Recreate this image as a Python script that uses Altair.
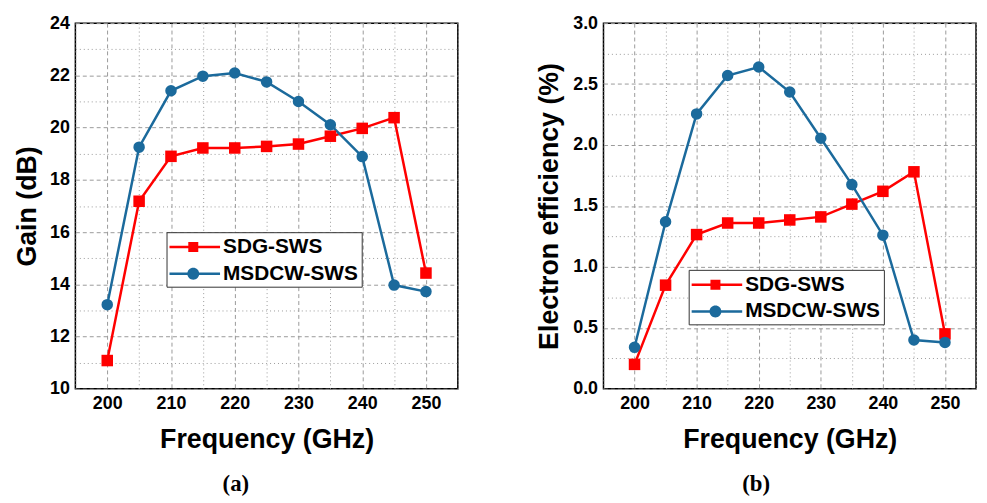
import altair as alt
import pandas as pd

# ---------------- data ----------------
freq = [200, 205, 210, 215, 220, 225, 230, 235, 240, 245, 250]
series_names = ["SDG-SWS", "MSDCW-SWS"]
series_colors = ["#ff0000", "#1b6a9c"]

gain_sdg = [11.08, 17.18, 18.90, 19.22, 19.22, 19.28, 19.37, 19.67, 19.97, 20.38, 14.43]
gain_msdcw = [13.22, 19.25, 21.41, 21.97, 22.09, 21.75, 21.00, 20.11, 18.89, 13.97, 13.72]

eff_sdg = [0.20, 0.85, 1.265, 1.36, 1.36, 1.385, 1.41, 1.515, 1.62, 1.78, 0.45]
eff_msdcw = [0.34, 1.37, 2.255, 2.57, 2.64, 2.435, 2.055, 1.675, 1.26, 0.40, 0.38]

x_grid_values = list(range(195, 256, 5))
gain_grid_values = list(range(10, 25))
eff_grid_values = [i * 0.25 for i in range(13)]

FONT = "Liberation Sans"
GRID_COLOR = "#9a9a9a"

# legend symbols (line segment + marker), drawn to the right of the symbol centre
LEG_LINE = "M-1,-0.11 L3.25,-0.11 L3.25,0.11 L-1,0.11 Z"
LEG_SQUARE = LEG_LINE + " M0.58,-0.42 L1.42,-0.42 L1.42,0.42 L0.58,0.42 Z"
LEG_CIRCLE = LEG_LINE + " M1.5,0 A0.5,0.5 0 1,1 0.5,0 A0.5,0.5 0 1,1 1.5,0 Z"


def make_df(a, b):
    rows = []
    for name, vals in zip(series_names, [a, b]):
        for f, v in zip(freq, vals):
            rows.append({"freq": f, "value": v, "series": name})
    return pd.DataFrame(rows)


def panel(df, ydomain, yvalues, major_test, label_expr, ytitle, ytitle_pad,
          leg_x, leg_y, letter, width, height):
    x_enc = alt.X(
        "freq:Q",
        scale=alt.Scale(domain=[195, 255], nice=False, zero=False),
        axis=alt.Axis(
            values=x_grid_values,
            labelExpr="(datum.value % 10 == 0 && datum.value >= 200 && datum.value <= 250) ? datum.label : ''",
            title="Frequency (GHz)",
            titlePadding=14,
            gridDash={"condition": {"test": "datum.value % 10 == 0", "value": [4, 3]}, "value": [1, 3]},
        ),
    )
    y_enc = alt.Y(
        "value:Q",
        scale=alt.Scale(domain=ydomain, nice=False, zero=False),
        axis=alt.Axis(
            values=yvalues,
            labelExpr=label_expr,
            title=ytitle,
            titlePadding=ytitle_pad,
            gridDash={"condition": {"test": major_test, "value": [4, 3]}, "value": [1, 3]},
        ),
    )
    color_nolegend = alt.Color(
        "series:N",
        scale=alt.Scale(domain=series_names, range=series_colors),
        legend=None,
    )
    base = alt.Chart(df)
    lines = base.mark_line(strokeWidth=2.5).encode(
        x=x_enc, y=y_enc, color=color_nolegend,
        order=alt.Order("freq:Q"),
    )
    points = base.mark_point(filled=True, opacity=1, size=135).encode(
        x=x_enc, y=y_enc, color=color_nolegend,
        shape=alt.Shape(
            "series:N",
            scale=alt.Scale(domain=series_names, range=["square", "circle"]),
            legend=None,
        ),
    )
    legend_def = alt.Legend(
        title=None,
        orient="none",
        legendX=leg_x,
        legendY=leg_y,
        strokeColor="#333333",
        fillColor="white",
        padding=3,
        rowPadding=5,
        symbolSize=576,
        symbolStrokeWidth=0,
        labelFont=FONT,
        labelFontSize=21,
        labelFontWeight="bold",
        labelColor="black",
        labelOffset=30,
        symbolOpacity=1,
    )
    legend_layer = base.mark_point(filled=True, opacity=1).encode(
        x=x_enc, y=y_enc,
        color=alt.Color(
            "series:N",
            scale=alt.Scale(domain=series_names, range=series_colors),
            legend=legend_def,
        ),
        shape=alt.Shape(
            "series:N",
            scale=alt.Scale(domain=series_names, range=[LEG_SQUARE, LEG_CIRCLE]),
            legend=legend_def,
        ),
    ).transform_filter("false")

    return alt.layer(lines, points, legend_layer).resolve_scale(
        color="independent", shape="independent"
    ).properties(
        width=width,
        height=height,
        title=alt.TitleParams(
            letter, orient="bottom", anchor="middle", frame="bounds",
            font="Liberation Serif", fontSize=23, fontWeight="bold",
            color="black", offset=21,
        ),
    )


gain_df = make_df(gain_sdg, gain_msdcw)
eff_df = make_df(eff_sdg, eff_msdcw)

left = panel(
    gain_df, [10, 24], gain_grid_values, "datum.value % 2 == 0",
    "datum.value % 2 == 0 ? datum.label : ''",
    "Gain (dB)", 8, 92, 211, "(a)", 386, 369,
)
right = panel(
    eff_df, [0, 3], eff_grid_values,
    "abs(datum.value * 2 - round(datum.value * 2)) < 0.001",
    "abs(datum.value * 2 - round(datum.value * 2)) < 0.001 ? format(datum.value, '.1f') : ''",
    "Electron efficiency (%)", 9, 86, 249, "(b)", 376, 369,
)

chart = alt.hconcat(left, right, spacing=77).properties(
    padding={"left": 5, "top": 3, "right": 2, "bottom": 0},
).configure_view(
    stroke="black", strokeWidth=1.5,
).configure_axis(
    domain=False,
    ticks=False,
    grid=True,
    gridColor=GRID_COLOR,
    gridWidth=1,
    labelFont=FONT,
    labelFontSize=18,
    labelFontWeight="bold",
    labelColor="black",
    labelPadding=6,
    titleFont=FONT,
    titleFontSize=27,
    titleFontWeight="bold",
    titleColor="black",
).configure_axisX(
    labelOverlap=False,
).configure_axisY(
    labelOverlap=False,
)

chart.save("out.html", embed_options={"renderer": "svg", "actions": False})
